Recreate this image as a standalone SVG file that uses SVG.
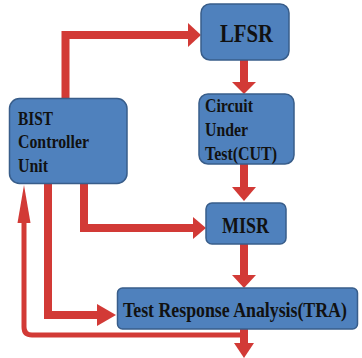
<svg xmlns="http://www.w3.org/2000/svg" width="362" height="358" viewBox="0 0 362 358">
<style>
.box{fill:#4F81BD;stroke:#385D8A;stroke-width:1.5}
.t{font-family:"Liberation Serif","Times New Roman",serif;font-weight:bold;fill:#111}
.sh{fill:none;stroke:#D23A36;stroke-width:8;stroke-linejoin:miter}
.thin{fill:none;stroke:#D23A36;stroke-width:5;stroke-linejoin:round}
.hd{fill:#D23A36}
</style>
<rect width="362" height="358" fill="#fff"/>
<g id="connectors">
<path class="sh" d="M65.5,100 V35 H189"/>
<polygon class="hd" points="188,23 201,35 188,47"/>
<path class="sh" d="M244,60 V83"/>
<polygon class="hd" points="232,82 244,94 256,82"/>
<path class="sh" d="M244,164 V188"/>
<polygon class="hd" points="232,187 244,201 256,187"/>
<path class="sh" d="M244,244 V276"/>
<polygon class="hd" points="232,275 244,288 256,275"/>
<path class="sh" d="M84,183 V228 H194"/>
<polygon class="hd" points="193,217 206,228 193,239"/>
<path class="sh" d="M48,183 V315 H98"/>
<polygon class="hd" points="97,304 116,315 97,326"/>
<path class="sh" d="M244,329 V344"/>
<polygon class="hd" points="234,343 244,358 254,343"/>
<path class="thin" d="M240,335 H32 Q24,335 24,327 V220"/>
<polygon class="hd" points="17.5,223 24,185 30.5,223"/>
</g>
<g id="lfsr">
<rect class="box" x="201" y="4" width="88" height="56" rx="9"/>
<text class="t" x="220" y="42" font-size="26" textLength="53" lengthAdjust="spacingAndGlyphs">LFSR</text>
</g>
<g id="cut">
<rect class="box" x="199" y="94" width="95" height="70" rx="9"/>
<text class="t" x="205" y="112" font-size="18" textLength="48" lengthAdjust="spacingAndGlyphs">Circuit</text>
<text class="t" x="205" y="136" font-size="18" textLength="43" lengthAdjust="spacingAndGlyphs">Under</text>
<text class="t" x="205" y="160" font-size="18" textLength="72" lengthAdjust="spacingAndGlyphs">Test(CUT)</text>
</g>
<g id="bist">
<rect class="box" x="9.5" y="98.5" width="117.5" height="85" rx="10"/>
<text class="t" x="18" y="125" font-size="18" textLength="35" lengthAdjust="spacingAndGlyphs">BIST</text>
<text class="t" x="18" y="148" font-size="18" textLength="71" lengthAdjust="spacingAndGlyphs">Controller</text>
<text class="t" x="18" y="172" font-size="18" textLength="30" lengthAdjust="spacingAndGlyphs">Unit</text>
</g>
<g id="misr">
<rect class="box" x="206" y="203" width="80" height="41" rx="6"/>
<text class="t" x="222" y="233" font-size="24" textLength="47" lengthAdjust="spacingAndGlyphs">MISR</text>
</g>
<g id="tra">
<rect class="box" x="117.5" y="288" width="240" height="41" rx="5"/>
<text class="t" transform="translate(123,317) scale(0.81,1)" x="0" y="0" font-size="22">Test Response Analysis(TRA)</text>
</g>
</svg>
